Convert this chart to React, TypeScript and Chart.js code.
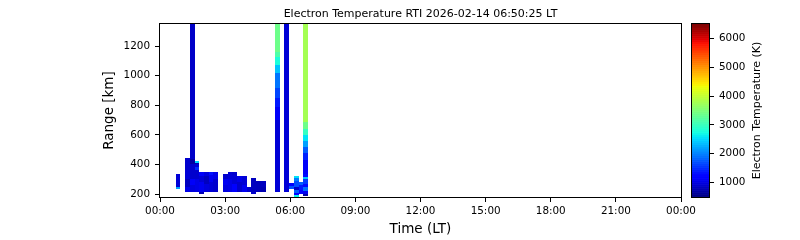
import React, { useEffect, useRef } from 'react';
import { Chart, registerables } from 'chart.js';

Chart.register(...registerables);

const TITLE = 'Electron Temperature RTI 2026-02-14 06:50:25 LT';
const X_LABEL = 'Time (LT)';
const Y_LABEL = 'Range [km]';
const CB_LABEL = 'Electron Temperature (K)';

const X_MIN = 0;
const X_MAX = 24;
const X_TICKS = [0, 3, 6, 9, 12, 15, 18, 21, 24];
const X_TICK_LABELS = ['00:00', '03:00', '06:00', '09:00', '12:00', '15:00', '18:00', '21:00', '00:00'];
const Y_MIN = 180;
const Y_MAX = 1350;
const Y_TICKS = [200, 400, 600, 800, 1000, 1200];
const TE_MIN = 500;
const TE_MAX = 6500;
const CB_TICKS = [1000, 2000, 3000, 4000, 5000, 6000];

// time bin width (hours) and column start times (hours, LT)
const BIN_H = 0.218;
const COL_START = [
  0.72, 1.156, 1.374, 1.592, 1.81, 2.028, 2.246, 2.464, 2.9, 3.118, 3.336, 3.554,
  3.772, 3.99, 4.208, 4.426, 4.644, 5.298, 5.734, 5.952, 6.17, 6.388, 6.606,
];
// per column: [rangeFrom km, rangeTo km, Te K]
const COL_CELLS: number[][][] = [
  [[236, 250, 2200], [250, 338, 950]],
  [[216, 250, 1050], [250, 300, 850], [300, 360, 950], [360, 446, 900]],
  [[216, 260, 1000], [260, 300, 1150], [300, 400, 900], [400, 440, 700], [440, 1350, 880]],
  [[216, 300, 1050], [300, 360, 900], [360, 380, 1500], [380, 400, 950], [400, 412, 750], [412, 426, 2500]],
  [[202, 216, 800], [216, 280, 1100], [280, 320, 950], [320, 351, 1150]],
  [[216, 270, 1000], [270, 320, 850], [320, 351, 1000]],
  [[216, 280, 950], [280, 330, 1100], [330, 351, 1350]],
  [[216, 300, 900], [300, 351, 1050]],
  [[216, 260, 1000], [260, 300, 1100], [300, 338, 900]],
  [[216, 300, 1050], [300, 351, 950]],
  [[216, 270, 1200], [270, 330, 950], [330, 351, 900]],
  [[216, 280, 900], [280, 324, 1050]],
  [[216, 260, 1100], [260, 324, 950]],
  [[216, 250, 900]],
  [[202, 216, 900], [216, 311, 850]],
  [[216, 290, 820]],
  [[216, 250, 780], [250, 290, 850]],
  [[216, 700, 950], [700, 786, 1150], [786, 850, 1400], [850, 920, 1650], [920, 1016, 1950],
   [1016, 1070, 2400], [1070, 1125, 2800], [1125, 1160, 3150], [1160, 1350, 3400]],
  [[216, 1350, 950]],
  [[236, 256, 1700], [256, 276, 1200]],
  [[180, 195, 2700], [195, 210, 1200], [210, 225, 1800], [225, 250, 900], [250, 290, 1700],
   [290, 310, 2000], [310, 324, 2600]],
  [[202, 230, 1200], [230, 260, 1400], [260, 284, 1800]],
  [[188, 202, 700], [202, 220, 1100], [220, 245, 1900], [245, 270, 1300], [270, 300, 1600],
   [300, 315, 2400], [315, 338, 1300], [338, 430, 1150], [430, 475, 1450], [475, 520, 1800],
   [520, 560, 2200], [560, 600, 2600], [600, 640, 3000], [640, 690, 3400], [690, 1350, 3800]],
];

const FONT = 'DejaVu Sans';

function interp(t: number, pts: number[][]): number {
  for (let i = 1; i < pts.length; i++) {
    if (t <= pts[i][0]) {
      const [x0, y0] = pts[i - 1];
      const [x1, y1] = pts[i];
      return y0 + ((t - x0) / (x1 - x0)) * (y1 - y0);
    }
  }
  return pts[pts.length - 1][1];
}

function jet(v: number): string {
  let t = (v - TE_MIN) / (TE_MAX - TE_MIN);
  t = Math.max(0, Math.min(1, t));
  t = Math.floor(t * 255.999) / 255;
  const r = interp(t, [[0, 0], [0.35, 0], [0.66, 1], [0.89, 1], [1, 0.5]]);
  const g = interp(t, [[0, 0], [0.125, 0], [0.375, 1], [0.64, 1], [0.91, 0], [1, 0]]);
  const b = interp(t, [[0, 0.5], [0.11, 1], [0.34, 1], [0.65, 0], [1, 0]]);
  return `rgb(${Math.round(r * 255)},${Math.round(g * 255)},${Math.round(b * 255)})`;
}

function strokeFrame(ctx: CanvasRenderingContext2D, area: any) {
  ctx.strokeStyle = '#000';
  ctx.lineWidth = 1;
  const l = Math.round(area.left) - 0.5;
  const t = Math.round(area.top) - 0.5;
  const r = Math.round(area.right) + 0.5;
  const b = Math.round(area.bottom) + 0.5;
  ctx.strokeRect(l, t, r - l, b - t);
}

const heatmapPlugin = {
  id: 'rtiHeatmap',
  beforeDatasetsDraw(chart: any) {
    const { ctx, chartArea, scales } = chart;
    const xs = scales.x;
    const ys = scales.y;
    ctx.save();
    ctx.beginPath();
    ctx.rect(chartArea.left, chartArea.top, chartArea.right - chartArea.left, chartArea.bottom - chartArea.top);
    ctx.clip();
    COL_START.forEach((t0, i) => {
      const x0 = Math.round(xs.getPixelForValue(t0));
      const x1 = Math.round(xs.getPixelForValue(t0 + BIN_H));
      COL_CELLS[i].forEach(([r0, r1, te]) => {
        const yTop = Math.round(ys.getPixelForValue(r1));
        const yBot = Math.round(ys.getPixelForValue(r0));
        ctx.fillStyle = jet(te);
        ctx.fillRect(x0, yTop, x1 - x0, yBot - yTop);
      });
    });
    ctx.restore();
  },
  afterDraw(chart: any) {
    const { ctx, chartArea } = chart;
    ctx.save();
    strokeFrame(ctx, chartArea);
    ctx.fillStyle = '#000';
    ctx.font = `normal 11px "${FONT}"`;
    ctx.textAlign = 'center';
    ctx.textBaseline = 'alphabetic';
    ctx.fillText(TITLE, (chartArea.left + chartArea.right) / 2, 16.5);
    ctx.restore();
  },
};

const colorbarPlugin = {
  id: 'colorbar',
  beforeDatasetsDraw(chart: any) {
    const { ctx, chartArea, scales } = chart;
    const ys = scales.y;
    const steps = 256;
    ctx.save();
    for (let i = 0; i < steps; i++) {
      const v0 = TE_MIN + ((TE_MAX - TE_MIN) * i) / steps;
      const v1 = TE_MIN + ((TE_MAX - TE_MIN) * (i + 1)) / steps;
      const yA = ys.getPixelForValue(v1);
      const yB = ys.getPixelForValue(v0);
      ctx.fillStyle = jet((v0 + v1) / 2);
      ctx.fillRect(chartArea.left, yA, chartArea.right - chartArea.left, yB - yA + 0.6);
    }
    strokeFrame(ctx, chartArea);
    ctx.restore();
  },
  afterDraw(chart: any) {
    const { ctx, chartArea } = chart;
    ctx.save();
    ctx.translate(757, (chartArea.top + chartArea.bottom) / 2);
    ctx.rotate(-Math.PI / 2);
    ctx.fillStyle = '#000';
    ctx.font = `normal 11px "${FONT}"`;
    ctx.textAlign = 'center';
    ctx.textBaseline = 'middle';
    ctx.fillText(CB_LABEL, 0, 0);
    ctx.restore();
  },
};

export default function App() {
  const mainRef = useRef<HTMLCanvasElement | null>(null);
  const cbRef = useRef<HTMLCanvasElement | null>(null);

  useEffect(() => {
    document.body.style.margin = '0';
    const tickFont = { family: FONT, size: 10.4 };
    const main = new Chart(mainRef.current as HTMLCanvasElement, {
      type: 'scatter',
      data: { datasets: [{ data: [] }] },
      options: {
        animation: false,
        responsive: false,
        events: [],
        layout: { padding: { left: 101, right: 119, top: 24, bottom: 0 } },
        plugins: {
          legend: { display: false },
          tooltip: { enabled: false },
          title: { display: false },
        },
        scales: {
          x: {
            type: 'linear',
            min: X_MIN,
            max: X_MAX,
            afterBuildTicks: (s: any) => {
              s.ticks = X_TICKS.map((v) => ({ value: v }));
            },
            afterFit: (s: any) => {
              s.height = 43;
            },
            ticks: {
              autoSkip: false,
              maxRotation: 0,
              color: '#000',
              font: tickFont,
              padding: 3,
              callback: (_v: any, i: number) => X_TICK_LABELS[i],
            },
            grid: { drawOnChartArea: false, tickLength: 5, color: '#000', tickColor: '#000' },
            border: { display: false },
            title: {
              display: true,
              text: X_LABEL,
              color: '#000',
              font: { family: FONT, size: 13.5 },
              padding: { top: 0, bottom: 2 },
            },
          },
          y: {
            type: 'linear',
            min: Y_MIN,
            max: Y_MAX,
            afterBuildTicks: (s: any) => {
              s.ticks = Y_TICKS.map((v) => ({ value: v }));
            },
            afterFit: (s: any) => {
              s.width = 59;
            },
            ticks: {
              autoSkip: false,
              color: '#000',
              font: tickFont,
              padding: 5,
              callback: (v: any) => String(v),
            },
            grid: { drawOnChartArea: false, tickLength: 5, color: '#000', tickColor: '#000' },
            border: { display: false },
            title: {
              display: true,
              text: Y_LABEL,
              color: '#000',
              font: { family: FONT, size: 13.5 },
              padding: { top: 0, bottom: 0 },
            },
          },
        },
      } as any,
      plugins: [heatmapPlugin],
    });

    const cb = new Chart(cbRef.current as HTMLCanvasElement, {
      type: 'scatter',
      data: { datasets: [{ data: [] }] },
      options: {
        animation: false,
        responsive: false,
        events: [],
        layout: { padding: { left: 692, right: 36, top: 24, bottom: 43 } },
        plugins: { legend: { display: false }, tooltip: { enabled: false }, title: { display: false } },
        scales: {
          x: { type: 'linear', display: false, min: 0, max: 1 },
          y: {
            type: 'linear',
            position: 'right',
            min: TE_MIN,
            max: TE_MAX,
            afterBuildTicks: (s: any) => {
              s.ticks = CB_TICKS.map((v) => ({ value: v }));
            },
            afterFit: (s: any) => {
              s.width = 55;
            },
            ticks: {
              autoSkip: false,
              color: '#000',
              font: tickFont,
              padding: 5,
              callback: (v: any) => String(v),
            },
            grid: { drawOnChartArea: false, tickLength: 5, color: '#000', tickColor: '#000' },
            border: { display: false },
            title: { display: false },
          },
        },
      } as any,
      plugins: [colorbarPlugin],
    });

    return () => {
      main.destroy();
      cb.destroy();
    };
  }, []);

  return (
    <div style={{ position: 'fixed', left: 0, top: 0, width: 800, height: 240, background: '#fff' }}>
      <canvas ref={mainRef} width={800} height={240} style={{ position: 'absolute', left: 0, top: 0, width: 800, height: 240 }} />
      <canvas ref={cbRef} width={800} height={240} style={{ position: 'absolute', left: 0, top: 0, width: 800, height: 240 }} />
    </div>
  );
}
